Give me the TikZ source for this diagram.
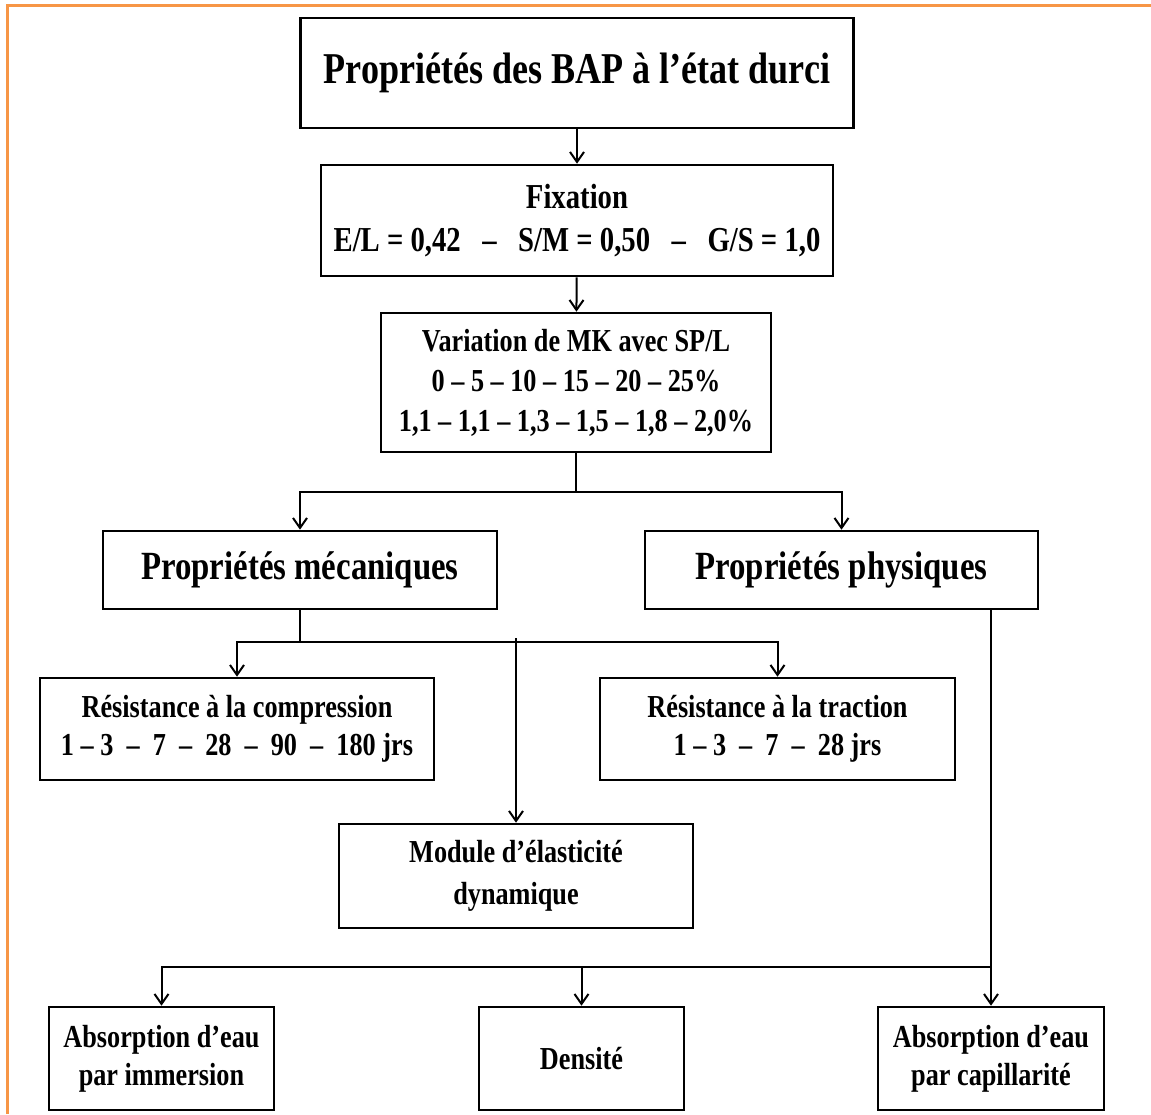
\documentclass[tikz,border=0pt]{standalone}
\usepackage{fontspec}
\setmainfont{Liberation Serif}[FakeStretch=0.82]
\usetikzlibrary{arrows.meta}
\definecolor{cadre}{HTML}{F79646}

\begin{document}
\begin{tikzpicture}[x=0.5pt, y=-0.5pt, line width=1pt,
  main/.style = {draw, line width=1.3pt, align=center, inner sep=0pt, font=\bfseries\fontsize{16}{19}\selectfont},
  big/.style = {font=\bfseries\fontsize{20}{24}\selectfont},
  arr/.style = {-{Straight Barb[length=5pt,width=7pt]}}]
\useasboundingbox (0,0) rectangle (1151,1114);
\draw[cadre, line width=1.5pt] (7,1114) -- (7,5) -- (1151,5);

\node[main, minimum width=276.5pt, minimum height=55pt, font=\bfseries\fontsize{22}{26}\selectfont] (titre) at (577,73) {Propriétés des BAP à l’état durci};
\node[main, minimum width=256pt, minimum height=55.5pt, font=\bfseries\fontsize{17.5}{21.5}\selectfont] (fix) at (577,220.5) {Fixation\\E/L = 0,42 \ \ – \ \ S/M = 0,50 \ \ – \ \ G/S = 1,0};
\node[main, minimum width=195pt, minimum height=69.5pt, font=\bfseries\fontsize{16}{20}\selectfont] (var) at (576,382.5) {Variation de MK avec SP/L\\0 – 5 – 10 – 15 – 20 – 25\%\\1,1 – 1,1 – 1,3 – 1,5 – 1,8 – 2,0\%};
\node[main, big, minimum width=197pt, minimum height=39pt] (meca) at (300,570) {Propriétés mécaniques};
\node[main, big, minimum width=196.5pt, minimum height=39pt] (phys) at (841.5,570) {Propriétés physiques};
\node[main, minimum width=197pt, minimum height=51pt] (comp) at (237,729) {Résistance à la compression\\1 – 3 \ – \ 7 \ – \ 28 \ – \ 90 \ – \ 180 jrs};
\node[main, minimum width=177.5pt, minimum height=51pt] (trac) at (777.5,729) {Résistance à la traction\\1 – 3 \ – \ 7 \ – \ 28 jrs};
\node[main, minimum width=177pt, minimum height=52pt, font=\bfseries\fontsize{16}{21}\selectfont] (mod) at (516,876) {Module d’élasticité\\dynamique};
\node[main, minimum width=112.5pt, minimum height=51.5pt] (imm) at (161.5,1058.5) {Absorption d’eau\\par immersion};
\node[main, minimum width=102.5pt, minimum height=51.5pt] (dens) at (581.5,1058.5) {Densité};
\node[main, minimum width=113pt, minimum height=51.5pt] (cap) at (991,1058.5) {Absorption d’eau\\par capillarité};

\coordinate (j1) at (576,492);
\coordinate (j2) at (300,642);
\coordinate (j3) at (991,967);

\draw[arr] (titre) -- (fix);
\draw[arr] (fix) -- (var);
\draw (var) -- (j1);
\draw[arr] (j1) -| (meca);
\draw[arr] (j1) -| (phys);
\draw (meca) -- (j2);
\draw[arr] (j2) -| (comp);
\draw[arr] (j2) -| (trac);
\draw[arr] (mod.north |- j2) ++(0,-4) -- (mod);
\draw[arr] (phys.south -| cap.north) -- (cap);
\draw[arr] (j3) -| (imm);
\draw[arr] (j3) -| (dens);
\end{tikzpicture}
\end{document}
